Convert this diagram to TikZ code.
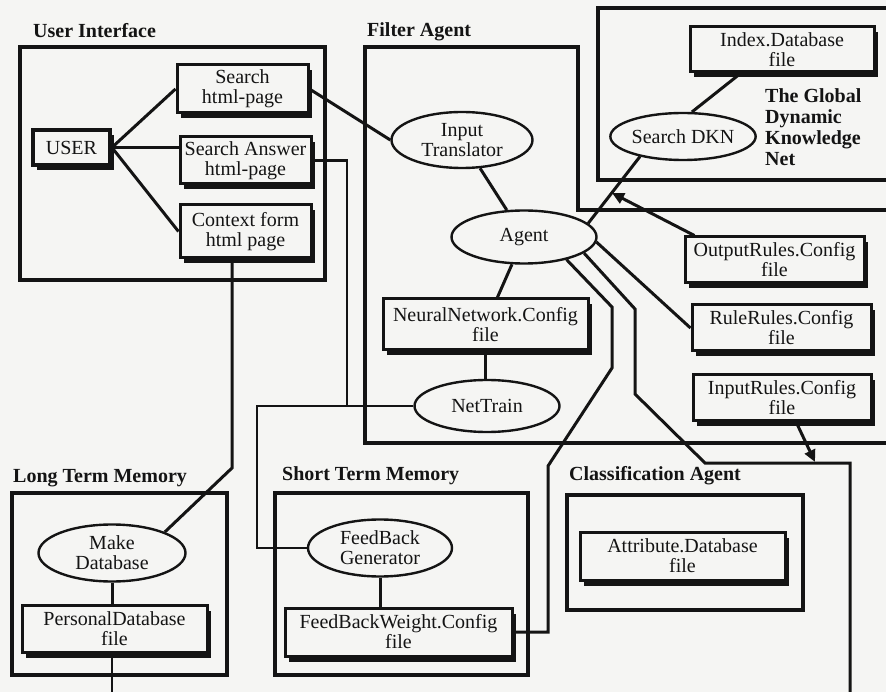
\documentclass[tikz,border=0pt]{standalone}
\usepackage{fontspec}
\setmainfont{Liberation Serif}
\usetikzlibrary{shapes.geometric,shadows,arrows.meta}
\definecolor{paper}{RGB}{245,245,243}
\definecolor{ink}{RGB}{20,20,20}
\begin{document}
\begin{tikzpicture}[x=1pt,y=-1pt,
  every node/.style={font=\fontsize{20}{20}\selectfont, inner sep=0pt, text=ink},
  filebox/.style={draw=ink, line width=3pt, fill=paper, align=center, rectangle,
     drop shadow={shadow xshift=4pt,shadow yshift=-5.5pt,fill=ink,opacity=1}},
  proc/.style={draw=ink, ellipse, line width=2.4pt, fill=paper, align=center},
  area/.style={draw=ink, line width=4pt},
  title/.style={font=\bfseries\fontsize{20}{21}\selectfont, anchor=base west},
  link/.style={draw=ink, line width=3pt},
  thinlink/.style={draw=ink, line width=2.4pt},
  arrowhead/.style={-{Triangle[length=12pt,width=11pt]}}
]
\useasboundingbox (0,0) rectangle (886,692);
\fill[paper] (0,0) rectangle (886,692);

% containers
\draw[area] (20,47) rectangle (325,280);
\draw[area] (892,210) -- (578,210) -- (578,47) -- (365,47) -- (365,443) -- (892,443);
\draw[area, line width=3.6pt] (892,8) -- (598,8) -- (598,180) -- (892,180);
\draw[area] (12,493) rectangle (227,675);
\draw[area] (275,493) rectangle (528,675);
\draw[area] (567,495) rectangle (803,610);

% titles
\node[title] (tui) at (33,38) {User Interface};
\node[title] (tfa) at (367,37) {Filter Agent};
\node[title] (tltm) at (13,482) {Long Term Memory};
\node[title] (tstm) at (282,480) {Short Term Memory};
\node[title] (tca) at (569,480) {Classification Agent};
\node[font=\bfseries\fontsize{20}{21}\selectfont, align=left, anchor=north west] (tdkn) at (765,88) {The Global\\Dynamic\\Knowledge\\Net};

% boxes
\node[filebox, line width=3.8pt, minimum width=77pt, minimum height=35pt] (user) at (71.5,147.5) {USER};
\node[filebox, minimum width=131pt, minimum height=48pt] (search) at (242.5,89) {Search\\html-page};
\node[filebox, minimum width=131pt, minimum height=47pt] (answer) at (245.5,160.5) {Search Answer\\html-page};
\node[filebox, minimum width=131pt, minimum height=53pt] (context) at (245.5,231.5) {Context form\\html page};
\node[filebox, minimum width=184pt, minimum height=45pt] (index) at (782,49.5) {Index.Database\\file};
\node[filebox, minimum width=179pt, minimum height=46pt] (or) at (774.5,260) {OutputRules.Config\\file};
\node[filebox, minimum width=179pt, minimum height=46pt] (rr) at (781.5,328) {RuleRules.Config\\file};
\node[filebox, minimum width=178pt, minimum height=45pt] (ir) at (782,397.5) {InputRules.Config\\file};
\node[filebox, minimum width=205pt, minimum height=51pt] (nn) at (485.5,324.5) {NeuralNetwork.Config\\file};
\node[filebox, minimum width=185pt, minimum height=47pt] (pdb) at (114.5,628.5) {PersonalDatabase\\file};
\node[filebox, minimum width=227pt, minimum height=48pt] (fbw) at (398.5,632) {FeedBackWeight.Config\\file};
\node[filebox, minimum width=205pt, minimum height=48pt] (attr) at (682.5,556) {Attribute.Database\\file};

% ellipses
\node[proc, minimum width=141pt, minimum height=56pt] (it) at (462,140) {Input\\Translator};
\node[proc, minimum width=145pt, minimum height=53pt] (agent) at (524,237) {Agent};
\node[proc, minimum width=145pt, minimum height=52pt] (nettrain) at (487,406) {NetTrain};
\node[proc, minimum width=140pt, minimum height=47pt] (sdkn) at (683,136.5) {Search DKN};
\node[proc, minimum width=147pt, minimum height=57pt] (mkdb) at (112,553) {Make\\Database};
\node[proc, minimum width=144pt, minimum height=57pt] (fbg) at (380,548) {FeedBack\\Generator};

% connectors
\draw[link] (user.east) -- (search.west);
\draw[link] (user.east) -- (user.east -| answer.west);
\draw[link] (user.east) -- (context.west);
\draw[link] (search.east) -- (it.west);
\draw[link] (it) -- (agent);
\draw[link] (agent) -- (nn);
\draw[link] (nn.south) -- (nn.south |- nettrain.north);

\coordinate (ntl) at (257,406);
\coordinate (j1) at (347,406);
\draw[thinlink] (nettrain.west) -- (ntl) |- (fbg.west);
\draw[thinlink] (answer.east) -| (j1);

\coordinate (cm) at (232,468);
\draw[link] (context.south -| cm) -- (cm) -- (mkdb.north east);
\draw[link] (mkdb.south) -- (mkdb.south |- pdb.north);
\coordinate (pend) at (112,700);
\draw[thinlink] (pdb.south -| pend) -- (pend);
\draw[link] (fbg.south) -- (fbg.south |- fbw.north);

\coordinate (a1) at (612,307);
\coordinate (a2) at (612,368);
\coordinate (a3) at (548,466);
\draw[link] (agent.-28) -- (a1) -- (a2) -- (a3) |- (fbw.east);

\coordinate (b1) at (635,309);
\coordinate (b2) at (635,394);
\coordinate (b3) at (705,463);
\coordinate (b4) at (850,463);
\coordinate (b5) at (850,700);
\draw[link] (agent.-15) -- (b1) -- (b2) -- (b3) -- (b4) -- (b5);

\draw[link] (agent.-4) -- (rr.west);
\draw[link] (agent.12) -- (sdkn.-155);
\draw[link] (sdkn.70) -- (index.-150);

\coordinate (oa) at (612,193);
\draw[link, arrowhead] (or.163) -- (oa);
\coordinate (ia) at (815,462);
\draw[link, arrowhead] (ir.-60) -- (ia);
\end{tikzpicture}
\end{document}
